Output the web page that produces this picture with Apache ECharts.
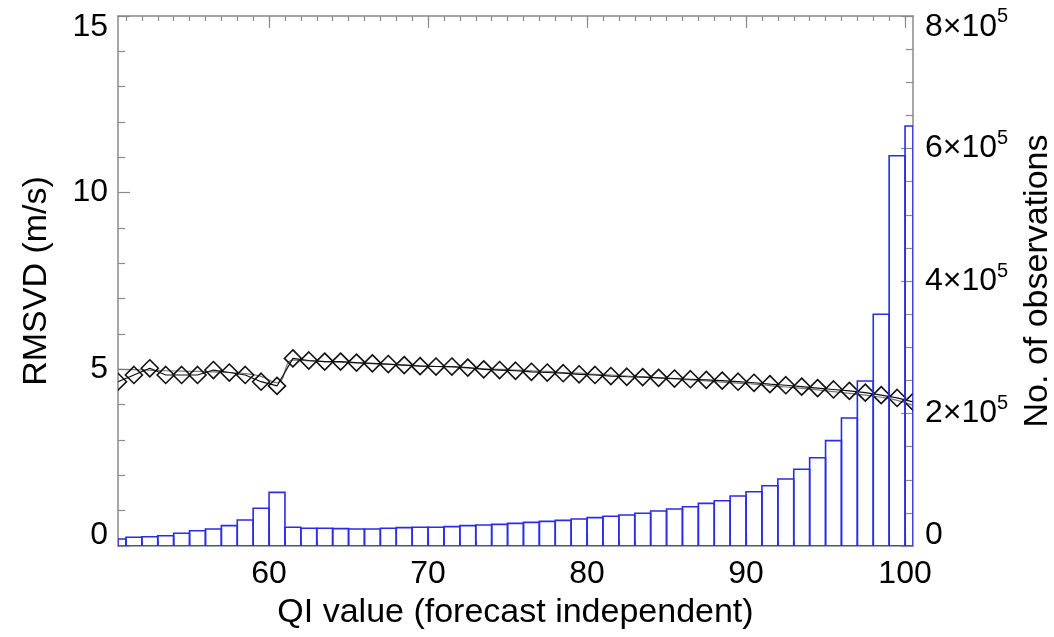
<!DOCTYPE html>
<html>
<head>
<meta charset="utf-8">
<script src="https://cdn.jsdelivr.net/npm/echarts@6/dist/echarts.min.js"></script>
<style>
  html, body { margin: 0; padding: 0; background: #ffffff; }
  #chart { width: 1054px; height: 637px; }
</style>
</head>
<body>
<div id="chart"></div>
<script>
// Histogram bins (left edge of each 1-wide QI bin) and number of observations
const binStarts = [50,51,52,53,54,55,56,57,58,59,60,61,62,63,64,65,66,67,68,69,70,71,72,73,74,75,76,77,78,79,80,81,82,83,84,85,86,87,88,89,90,91,92,93,94,95,96,97,98,99,100];
const obsCounts = [10600,13100,14000,15500,19200,23100,25700,30700,39200,56900,81000,28200,26700,26700,26200,25700,25700,26700,27700,28200,28200,29200,30700,31700,32700,34200,35700,37200,38700,40800,42800,44800,46800,49400,52800,55800,59300,64400,68400,75500,82000,91000,101100,115800,133300,159000,193200,249000,349700,589100,634000];
// RMSVD at bin centres (diamonds)
const binCentres = [50.5,51.5,52.5,53.5,54.5,55.5,56.5,57.5,58.5,59.5,60.5,61.5,62.5,63.5,64.5,65.5,66.5,67.5,68.5,69.5,70.5,71.5,72.5,73.5,74.5,75.5,76.5,77.5,78.5,79.5,80.5,81.5,82.5,83.5,84.5,85.5,86.5,87.5,88.5,89.5,90.5,91.5,92.5,93.5,94.5,95.5,96.5,97.5,98.5,99.5,100.5];
const rmsvd = [4.65,4.84,5.03,4.84,4.84,4.84,4.98,4.91,4.84,4.65,4.53,5.31,5.25,5.22,5.22,5.19,5.17,5.15,5.12,5.09,5.08,5.08,5.05,5.00,4.98,4.96,4.93,4.91,4.89,4.86,4.84,4.81,4.79,4.78,4.76,4.74,4.72,4.70,4.68,4.65,4.62,4.58,4.55,4.51,4.47,4.43,4.39,4.34,4.27,4.19,4.08];
// Thin grey companion curve
const rmsvdGrey = [5.00,4.99,4.98,4.96,4.95,4.94,4.93,4.91,4.88,4.80,4.62,5.26,5.24,5.22,5.20,5.18,5.16,5.14,5.12,5.10,5.08,5.06,5.04,5.02,5.00,4.98,4.96,4.94,4.91,4.89,4.86,4.84,4.81,4.79,4.76,4.73,4.70,4.67,4.64,4.61,4.58,4.54,4.50,4.46,4.42,4.37,4.32,4.27,4.21,4.12,3.98];
// Tick labels
const xMajorTicks = [60,70,80,90,100];
const xMinorTicks = [];
for (let v = 51; v <= 100; v++) xMinorTicks.push(v);

const BIN_WIDTH = 1;
const FONT = 'Liberation Sans, Arial, Helvetica, sans-serif';
const TICK_FS = 32;
const NAME_FS = 34;
const AXIS_GREY = '#8a8a8a';
const BAR_BLUE = '#2b2bea';
const OBS_MAX = 800000;

const chart = echarts.init(document.getElementById('chart'), null, { renderer: 'canvas' });

function xAxisCfg(pos, ticks, len, showLine, showLabel, extra) {
  return Object.assign({
    type: 'value', min: 50.5, max: 100.5, position: pos,
    axisLine: { show: showLine, lineStyle: { color: AXIS_GREY, width: 1.5 } },
    axisTick: { show: true, inside: true, length: len, customValues: ticks, lineStyle: { color: AXIS_GREY, width: 1.2 } },
    axisLabel: { show: showLabel, customValues: ticks, color: '#000', fontSize: TICK_FS, fontFamily: FONT, margin: 12 },
    splitLine: { show: false }
  }, extra || {});
}

const option = {
  backgroundColor: '#ffffff',
  animation: false,
  grid: { left: 118, right: 141, top: 16, bottom: 91, containLabel: false, outerBoundsMode: 'none' },
  xAxis: [
    xAxisCfg('bottom', xMajorTicks, 12, true, true, {
      name: 'QI value (forecast independent)', nameLocation: 'middle', nameGap: 50,
      nameTextStyle: { color: '#000', fontSize: NAME_FS, fontFamily: FONT }
    }),
    xAxisCfg('bottom', xMinorTicks, 5, false, false),
    xAxisCfg('top', xMajorTicks, 12, true, false),
    xAxisCfg('top', xMinorTicks, 5, false, false)
  ],
  yAxis: [
    {
      type: 'value', min: 0, max: 15, interval: 5, position: 'left',
      name: 'RMSVD (m/s)', nameLocation: 'middle', nameGap: 64,
      nameTextStyle: { color: '#000', fontSize: NAME_FS, fontFamily: FONT },
      axisLine: { show: true, lineStyle: { color: AXIS_GREY, width: 1.5 } },
      axisTick: { show: true, inside: true, length: 12, lineStyle: { color: AXIS_GREY, width: 1.2 } },
      minorTick: { show: true, splitNumber: 5, length: 7, lineStyle: { color: AXIS_GREY, width: 1.2 } },
      splitLine: { show: false }, minorSplitLine: { show: false },
      axisLabel: { color: '#000', fontSize: TICK_FS, fontFamily: FONT, margin: 10, lineHeight: 22,
        verticalAlignMinLabel: 'bottom', verticalAlignMaxLabel: 'top' }
    },
    {
      type: 'value', min: 0, max: OBS_MAX, interval: 200000, position: 'right',
      name: 'No. of observations', nameLocation: 'middle', nameGap: 108, nameRotate: 90,
      nameTextStyle: { color: '#000', fontSize: NAME_FS, fontFamily: FONT },
      axisLine: { show: true, lineStyle: { color: AXIS_GREY, width: 1.5 } },
      axisTick: { show: true, inside: true, length: 12, lineStyle: { color: AXIS_GREY, width: 1.2 } },
      minorTick: { show: true, splitNumber: 4, length: 7, lineStyle: { color: AXIS_GREY, width: 1.2 } },
      splitLine: { show: false }, minorSplitLine: { show: false },
      axisLabel: {
        color: '#000', fontSize: TICK_FS, fontFamily: FONT, margin: 12,
        formatter: function (v) {
          if (v === 0) return '{z|0}';
          const m = v / 1e5;
          if (v === OBS_MAX) return '{bt|' + m + '×10}{st|5}';
          return '{b|' + m + '×10}{s|5}';
        },
        rich: {
          z: { fontSize: TICK_FS, fontFamily: FONT, color: '#000', lineHeight: 22, padding: [0, 0, 22, 0] },
          b: { fontSize: TICK_FS, fontFamily: FONT, color: '#000', lineHeight: 40 },
          s: { fontSize: 20, fontFamily: FONT, color: '#000', lineHeight: 20, verticalAlign: 'top' },
          bt: { fontSize: TICK_FS, fontFamily: FONT, color: '#000', lineHeight: 23, padding: [23, 0, 0, 0] },
          st: { fontSize: 20, fontFamily: FONT, color: '#000', lineHeight: 20, verticalAlign: 'top', padding: [2, 0, 0, 0] }
        }
      }
    }
  ],
  series: [
    {
      name: 'grey', type: 'line', xAxisIndex: 0, yAxisIndex: 0,
      data: binCentres.map((x, i) => [x, rmsvdGrey[i]]),
      smooth: true, showSymbol: false, clip: true,
      lineStyle: { color: '#777777', width: 1.2 }, z: 2
    },
    {
      name: 'rmsvdLine', type: 'line', xAxisIndex: 0, yAxisIndex: 0,
      data: binCentres.map((x, i) => [x, rmsvd[i]]),
      showSymbol: false, clip: true,
      lineStyle: { color: '#111111', width: 1.2 }, z: 3
    },
    {
      name: 'diamonds', type: 'custom', xAxisIndex: 0, yAxisIndex: 0, clip: true,
      data: binCentres.map((x, i) => [x, rmsvd[i]]),
      renderItem: function (params, api) {
        const p = api.coord([api.value(0), api.value(1)]);
        const h = 8.5;
        return {
          type: 'polygon',
          shape: { points: [[p[0], p[1] - h], [p[0] + h, p[1]], [p[0], p[1] + h], [p[0] - h, p[1]]] },
          style: { fill: 'none', stroke: '#111111', lineWidth: 1.6 }
        };
      },
      z: 4
    },
    {
      name: 'bars', type: 'custom', xAxisIndex: 0, yAxisIndex: 1, clip: true,
      data: binStarts.map((x, i) => [x, obsCounts[i]]),
      renderItem: function (params, api) {
        const x0 = api.value(0), v = api.value(1);
        const pTop = api.coord([x0, v]);
        const pBot = api.coord([x0 + BIN_WIDTH, 0]);
        const cs = params.coordSys;
        const rect = echarts.graphic.clipRectByRect(
          { x: pTop[0], y: pTop[1], width: pBot[0] - pTop[0], height: pBot[1] - pTop[1] },
          { x: cs.x, y: cs.y, width: cs.width, height: cs.height }
        );
        if (!rect) return null;
        return {
          type: 'rect', shape: rect,
          style: { fill: 'none', stroke: BAR_BLUE, lineWidth: 1.6 }
        };
      },
      z: 5
    }
  ]
};
chart.setOption(option);
</script>
</body>
</html>
